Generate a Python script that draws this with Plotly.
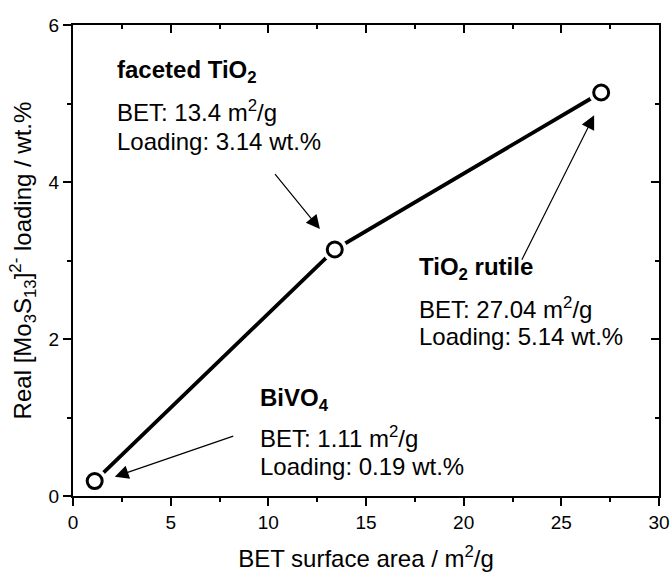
import plotly.graph_objects as go

# Photocatalyst supports: BET surface area vs. measured cluster loading
materials = ["BiVO<sub>4</sub>", "faceted TiO<sub>2</sub>", "TiO<sub>2</sub> rutile"]
bet_area = [1.11, 13.4, 27.04]          # m^2/g
loading = [0.19, 3.14, 5.14]            # wt.%

x_ticks = [0, 5, 10, 15, 20, 25, 30]
y_ticks = [0, 2, 4, 6]

FONT = "Arial, 'Liberation Sans', sans-serif"
TXT = 24

fig = go.Figure()

# connecting line
fig.add_trace(go.Scatter(x=bet_area, y=loading, mode="lines",
                         line=dict(color="black", width=3.8),
                         hoverinfo="skip", showlegend=False))
# white halo so the line stops short of each marker
fig.add_trace(go.Scatter(x=bet_area, y=loading, mode="markers",
                         marker=dict(size=25, color="white", line=dict(width=0)),
                         hoverinfo="skip", showlegend=False, cliponaxis=False))
# open circle markers
fig.add_trace(go.Scatter(x=bet_area, y=loading, mode="markers",
                         marker=dict(size=15, color="white", symbol="circle",
                                     line=dict(color="black", width=3)),
                         showlegend=False, cliponaxis=False))
# invisible trace to host the mirrored top/right axes
fig.add_trace(go.Scatter(x=[None], y=[None], xaxis="x2", yaxis="y2",
                         showlegend=False, hoverinfo="skip"))

# label blocks: (material index, left x, y of title / BET / loading lines)
label_pos = {
    0: (9.45, [1.23, 0.75, 0.37]),
    1: (2.15, [5.41, 4.90, 4.515]),
    2: (17.62, [2.90, 2.40, 2.035]),
}
for i, (lx, ys) in label_pos.items():
    lines = [f"<b>{materials[i]}</b>",
             f"BET: {bet_area[i]} m<sup>2</sup>/g",
             f"Loading: {loading[i]} wt.%"]
    for text, ly in zip(lines, ys):
        fig.add_annotation(x=lx, y=ly, xref="x", yref="y", text=text,
                           showarrow=False, xanchor="left", yanchor="middle",
                           font=dict(family=FONT, size=TXT, color="black"))

# pointer arrows (head at x,y; tail at ax,ay)
arrows = [
    (12.64, 3.40, 10.28, 4.12),
    (26.68, 4.85, 22.94, 2.99),
    (2.14, 0.245, 8.28, 0.77),
]
for hx, hy, tx, ty in arrows:
    fig.add_annotation(x=hx, y=hy, ax=tx, ay=ty, xref="x", yref="y",
                       axref="x", ayref="y", text="", showarrow=True,
                       arrowhead=2, arrowsize=2.3, arrowwidth=1.2,
                       arrowcolor="black", standoff=0)

axis_common = dict(showgrid=False, zeroline=False, showline=True,
                   linecolor="black", linewidth=2, tickcolor="black",
                   tickwidth=1.5, ticklen=8, automargin=False)

fig.update_layout(
    width=671, height=572,
    margin=dict(l=73, r=12, t=25, b=76),
    paper_bgcolor="white", plot_bgcolor="white",
    font=dict(family=FONT, color="black"),
    xaxis=dict(range=[0, 30], tickvals=x_ticks, ticks="outside",
               tickfont=dict(size=19, family=FONT),
               minor=dict(ticks="outside", ticklen=4, dtick=2.5,
                          tickcolor="black", tickwidth=1.5),
               title=dict(text="BET surface area / m<sup>2</sup>/g",
                          font=dict(size=TXT, family=FONT), standoff=22),
               **axis_common),
    yaxis=dict(range=[0, 6], tickvals=y_ticks, ticks="outside",
               tickfont=dict(size=19, family=FONT),
               minor=dict(ticks="outside", ticklen=4, dtick=1,
                          tickcolor="black", tickwidth=1.5),
               title=dict(text="Real [Mo<sub>3</sub>S<sub>13</sub>]<sup>2-</sup> loading / wt.%",
                          font=dict(size=TXT, family=FONT), standoff=10),
               **axis_common),
    xaxis2=dict(range=[0, 30], overlaying="x", side="top", anchor="y",
                tickvals=x_ticks, ticks="inside", showticklabels=False,
                minor=dict(ticks="inside", ticklen=4, dtick=2.5,
                           tickcolor="black", tickwidth=1.5),
                **axis_common),
    yaxis2=dict(range=[0, 6], overlaying="y", side="right", anchor="x",
                tickvals=y_ticks, ticks="inside", showticklabels=False,
                minor=dict(ticks="inside", ticklen=4, dtick=1,
                           tickcolor="black", tickwidth=1.5),
                **axis_common),
)

fig.write_html("out.html")
